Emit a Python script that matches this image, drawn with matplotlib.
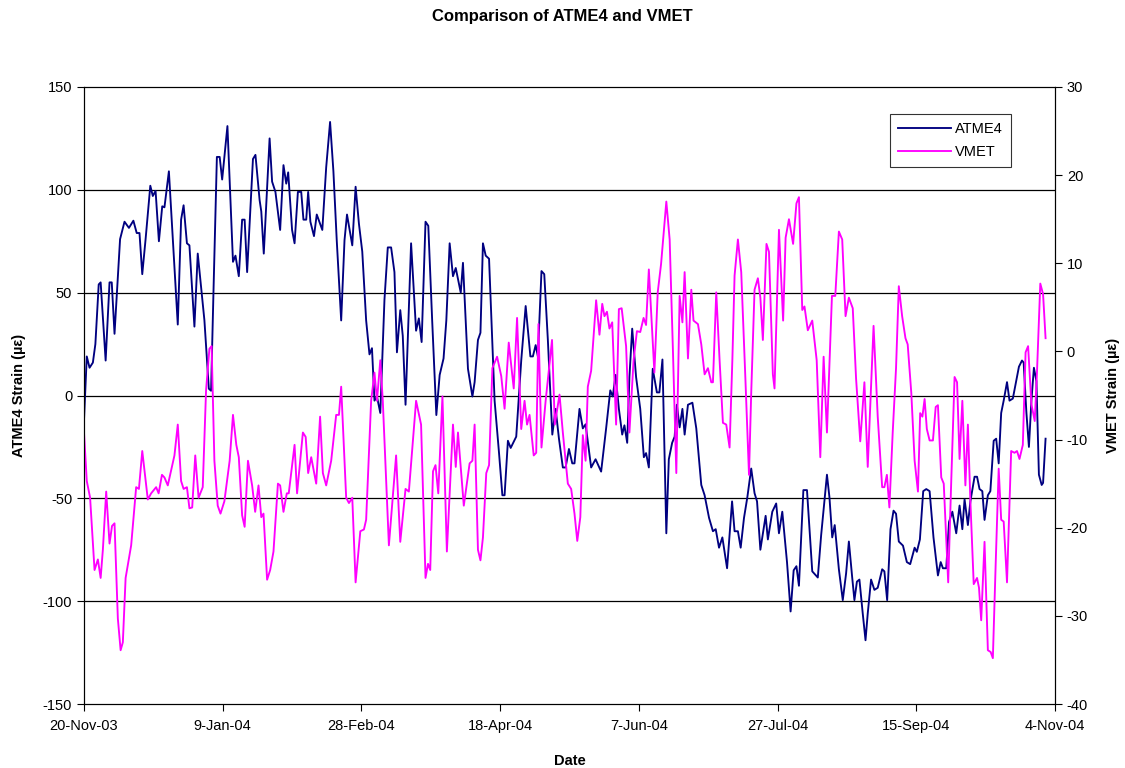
import numpy as np
import matplotlib
matplotlib.use('Agg')
import matplotlib.pyplot as plt

plt.rcParams['font.family'] = ['Liberation Sans', 'DejaVu Sans']
plt.rcParams['axes.unicode_minus'] = False

# days after 20-Nov-03
ATME4_DAYS = [0, 1.0, 2.0, 3.2, 4.1, 5.3, 6.0, 7.8, 9.2, 10.0, 11.0, 13.0, 14.6, 16.2, 17.8, 19.0, 20.0, 21.0,
              22.2, 23.9, 24.8, 25.8, 27.0, 28.2, 29.0, 30.6, 33.8, 35.0, 35.9, 37.1, 38.0, 39.8, 41.0,
              43.4, 45.0, 45.8, 46.7, 47.9, 48.9, 49.8, 51.7, 53.7, 54.6, 55.8, 57.0, 57.9, 58.8, 60.9, 61.8,
              63.3, 63.9, 64.8, 66.9, 67.8, 69.0, 70.7, 71.9, 72.9, 73.6, 75.0, 75.9, 77.1, 78.3, 79.1, 80.1,
              80.8, 81.6, 82.9, 83.9, 85.9, 87.3, 88.7, 89.9, 91.1, 92.7, 93.9, 94.8, 96.7, 97.9, 99.1, 100.3,
              101.7, 102.9, 103.8, 104.7, 105.6, 106.8, 108.3, 109.5, 110.7, 111.9, 112.8, 114.0, 114.9, 115.9,
              117.9, 119.7, 120.7, 121.7, 123.1, 124.1, 125.5, 127.0, 128.2, 129.6, 130.6, 131.8, 133.0, 134.0,
              135.8, 136.6, 138.4, 140.0, 140.8, 142.0, 142.9, 143.8, 144.8, 146.0, 148.0, 149.6, 150.8, 151.6,
              152.8, 153.8, 155.8, 157.6, 159.2, 160.9, 161.8, 162.8, 163.6, 164.9, 165.9, 167.2, 168.8, 170.0,
              171.2, 172.6, 173.6, 174.8, 176.0, 176.8, 178.6, 179.8, 180.8, 182.8, 184.4, 186.4, 188.2, 189.7,
              190.6, 191.6, 192.8, 194.0, 194.8, 195.8, 196.6, 197.6, 199.0, 200.5, 201.8, 202.6, 203.6, 205.0,
              206.5, 207.4, 208.5, 209.9, 210.8, 212.0, 212.9, 213.7, 214.7, 215.7, 216.5, 217.7, 219.3, 220.7,
              222.5, 223.7, 225.3, 226.7, 227.7, 228.9, 230.1, 231.8, 233.6, 234.5, 235.7, 236.7, 237.9, 239.1,
              240.5, 241.7, 242.6, 243.8, 245.7, 246.5, 248.1, 249.5, 250.5, 251.7, 253.4, 254.7, 255.8, 256.8,
              257.7, 259.3, 260.6, 262.5, 264.5, 265.7, 266.6, 267.8, 268.7, 269.7, 270.6, 272.1, 273.5, 274.7,
              275.7, 276.9, 277.7, 278.6, 279.5, 280.7, 281.7, 282.5, 283.7, 284.9, 286.1, 287.7, 288.5, 289.5,
              290.7, 291.8, 292.7, 293.7, 295.2, 296.6, 297.8, 299.4, 300.2, 301.3, 302.5, 303.6, 304.8, 306.2,
              307.8, 308.8, 309.6, 310.8, 311.8, 313.0, 314.4, 315.6, 316.6, 317.4, 318.6, 319.5, 321.0, 321.9,
              322.8, 323.8, 324.6, 325.8, 326.7, 327.9, 328.8, 329.7, 330.6, 331.5, 332.7, 333.6, 334.8, 336.0,
              337.0, 338.1, 338.7, 339.7, 340.6, 341.5, 342.4, 343.3, 344.2, 345.2, 345.7, 346.6]
ATME4_VALS = [-12, 19, 13.5, 16, 25, 54, 55, 17, 55, 55, 30, 76, 84.5, 81.5, 85, 79, 79, 59,
              76, 102, 97, 99.5, 75, 92, 91.5, 109, 34.5, 85.5, 92.5, 74, 73, 33.5, 69,
              36.6, 3.3, 2.3, 52, 116, 116, 105, 131, 65, 68, 58, 85.5, 85.5, 60, 115, 117,
              95, 89.5, 69, 125, 104, 99, 80.5, 112, 103, 108.5, 80.5, 74, 99, 99, 85.5, 85.5,
              99, 84.5, 77.5, 88, 80.5, 111, 133, 109, 75.5, 36.5, 75.5, 88, 73, 101.5, 83.5, 70,
              36.5, 20, 23, -2.5, -0.5, -8.5, 46.5, 72, 72, 60, 21, 41.5, 29, -4.5,
              74, 31.5, 37.5, 26, 84.5, 82.5, 36.5, -9.5, 10, 18, 36.5, 74, 58, 62,
              50, 64.5, 13, -0.5, 6.5, 27, 30.5, 74, 68, 66.5, -2.5, -28, -48.5, -48.5,
              -22, -25.5, -20, 17, 43.5, 19, 19, 24.5, 19, 60.5, 59, 27, -19, -6.5,
              -21, -35, -35, -26, -33, -33, -6.5, -16, -14, -35, -31, -37, -16, 2.5,
              -0.5, 10, -6.5, -19, -14.5, -23, 9, 32.5, 9, -6.5, -30, -28, -35, 13,
              1.5, 1.5, 17.5, -67, -31, -23, -20, -4.5, -15.5, -6.5, -19, -4.5, -3.5, -16,
              -43.5, -48.5, -59.5, -66, -65, -74, -69, -84, -51.5, -66, -66, -74, -59.5, -49.5,
              -35.5, -47.5, -51.5, -75, -58.5, -70, -56.5, -52.5, -67, -56.5, -81, -105, -85, -83,
              -92.5, -46, -46, -85.5, -88.5, -68, -55.5, -38.5, -49.5, -69, -63, -84.5, -99.5, -86.5,
              -71, -88.5, -99.5, -90.5, -89.5, -106, -119, -106, -89.5, -94.5, -93.5, -84.5, -85.5, -99.5,
              -65, -56, -57.5, -71, -73, -81, -82, -74, -76, -70, -46.5, -45.5, -46.5, -69,
              -87.5, -81, -84, -84, -61.5, -56.5, -67, -53.5, -65, -50.5, -63, -51.5, -39.5, -39.5,
              -45.5, -46.5, -60.5, -48.5, -46.5, -22, -21, -33, -8.5, -2.5, 6.5, -2.5, -1.5, 7,
              14, 17, 16, -8.5, -25, -2.5, 13.5, 7, -38.5, -43.5, -42.5, -21]

VMET_DAYS = [0, 1.0, 2.2, 3.8, 5.0, 6.0, 6.8, 8.0, 9.2, 10.1, 11.0, 12.2, 13.2, 14.0, 15.0, 17.0, 18.8, 19.8,
             21.0, 23.0, 24.2, 26.0, 26.9, 28.1, 29.0, 30.2, 32.6, 33.8, 35.0, 35.9, 37.1, 38.0, 39.0, 40.1,
             41.3, 42.8, 44.0, 45.2, 46.0, 47.0, 48.2, 49.2, 50.6, 52.5, 53.7, 54.9, 55.8, 57.0, 57.9, 59.1,
             60.6, 61.7, 62.9, 63.9, 64.7, 66.0, 67.1, 68.3, 69.9, 70.7, 71.9, 73.1, 73.8, 75.9, 76.8, 78.9,
             79.9, 80.8, 81.9, 83.7, 85.1, 86.1, 87.3, 89.1, 90.9, 91.9, 92.7, 94.5, 95.5, 96.7, 97.9, 99.6,
             100.9, 101.7, 103.5, 104.7, 105.6, 106.8, 107.7, 109.9, 112.5, 114.0, 115.9, 117.1, 119.7, 121.5,
             123.1, 124.0, 124.8, 125.8, 126.7, 127.7, 129.2, 130.8, 133.0, 134.0, 134.8, 136.9, 139.0, 140.0,
             140.8, 142.0, 142.9, 143.8, 145.0, 146.0, 147.2, 148.9, 150.4, 151.6, 153.1, 154.9, 156.1, 157.6,
             158.8, 159.7, 160.6, 162.1, 163.0, 163.8, 164.9, 166.4, 168.7, 169.7, 171.4, 172.6, 174.4, 175.6,
             176.8, 177.8, 178.9, 179.8, 180.8, 181.6, 182.8, 184.6, 185.8, 186.8, 187.6, 188.5, 189.4, 190.4,
             191.8, 192.8, 193.8, 195.4, 196.6, 198.1, 199.3, 200.5, 201.7, 202.6, 203.6, 205.6, 206.8, 208.0,
             209.9, 211.1, 212.3, 213.5, 214.7, 215.7, 216.5, 217.7, 218.9, 219.7, 221.3, 222.5, 223.7, 224.9,
             226.1, 226.7, 227.9, 229.1, 230.3, 231.5, 232.7, 233.7, 234.5, 235.7, 236.9, 238.4, 239.7, 240.5,
             241.7, 242.9, 243.8, 244.7, 246.0, 246.9, 248.3, 248.9, 250.5, 252.0, 252.9, 254.1, 255.6, 256.8,
             257.7, 258.9, 259.7, 260.9, 262.5, 264.1, 265.4, 266.6, 267.8, 269.6, 270.8, 272.1, 273.3, 274.5,
             275.7, 277.1, 278.3, 279.8, 281.3, 282.5, 284.6, 286.1, 287.7, 288.5, 289.4, 290.3, 291.5, 292.7,
             293.7, 294.9, 296.1, 296.9, 298.2, 299.4, 300.6, 301.4, 302.2, 303.0, 303.8, 304.8, 306.0, 307.0,
             307.8, 309.0, 309.9, 311.5, 312.6, 313.8, 314.7, 315.6, 316.6, 317.7, 318.6, 319.5, 320.7, 321.9,
             322.6, 323.4, 324.6, 325.8, 326.8, 327.6, 328.6, 329.7, 330.6, 331.5, 332.7, 334.2, 335.4, 336.3,
             337.2, 338.4, 339.4, 340.3, 341.5, 342.7, 343.5, 344.7, 345.7, 346.6]
VMET_VALS = [-9.2, -14.7, -16.6, -24.8, -23.6, -25.7, -22.5, -15.9, -21.8, -19.8, -19.5, -30.3, -33.9, -33, -25.7, -22, -15.4, -15.6,
             -11.3, -16.8, -16.1, -15.4, -16.1, -14, -14.3, -15.2, -11.8, -8.3, -14.7, -15.6, -15.4, -17.8, -17.7, -11.8,
             -16.6, -15.4, -4.4, 0.3, 0.6, -12.4, -17.5, -18.4, -17, -12.4, -7.2, -10.6, -12, -18.6, -19.9, -12.4,
             -15.2, -18.2, -15.2, -18.8, -18.4, -25.9, -24.8, -22.7, -15, -15.2, -18.2, -16.1, -16.1, -10.6, -16.1, -9.2,
             -9.7, -13.8, -12, -15, -7.4, -13.8, -15.2, -12.4, -7.2, -7.2, -4, -16.6, -17.2, -16.6, -26.2, -20.4,
             -20.2, -19.1, -5.6, -2.4, -5.6, -1, -5.6, -22, -11.8, -21.6, -15.6, -15.9, -5.6, -8.3,
             -25.7, -24.1, -24.8, -13.6, -12.9, -16.1, -5.1, -22.7, -8.3, -13.1, -9.2, -17.5, -12.7, -12.4,
             -8.3, -22.5, -23.7, -21.1, -13.8, -12.9, -1.9, -0.6, -2.8, -6.5, 1, -4.2, 3.8, -8.8,
             -5.6, -8.3, -7.2, -11.8, -11.5, 3.1, -10.9, -5.6, 1.3, -8.3, -4.9, -9.2, -15, -15.6,
             -18.4, -21.5, -18.8, -9.5, -12.4, -4, -2.2, 5.8, 1.9, 5.4, 4, 4.5, 2.6, 3.3,
             -8.3, 4.8, 4.9, 0.6, -9.2, -1, 2.3, 2.2, 3.8, 3, 9.3, -2.4, 6.7, 9.9,
             17, 12.7, -0.1, -13.8, 6.3, 3.3, 9, -0.8, 7, 3.5, 3.1, 0.8, -2.6, -1.9,
             -3.5, -3.5, 6.7, -1, -8.1, -8.3, -10.9, -1, 8.6, 12.7, 9, -3.1, -14, -4.7,
             7, 8.3, 6.1, 1.3, 12.2, 11.3, -2.6, -4.2, 13.8, 3.5, 12.9, 15, 12.2, 16.8,
             17.5, 4.7, 5.1, 2.4, 3.5, -1, -12, -0.6, -9.2, 6.3, 6.3, 13.6, 12.7, 4,
             6.1, 4.9, -3.1, -10.2, -3.5, -13.1, 2.9, -7.4, -15.4, -15.4, -14, -17.7, -9.2, -1.9,
             7.4, 4, 1.5, 0.8, -4.7, -12.4, -15.9, -7, -7.4, -5.4, -8.8, -10.1, -10.1, -6.3,
             -6.1, -14.3, -15, -26.2, -14.7, -2.9, -3.5, -12.2, -5.6, -15.2, -8.3, -17, -26.4, -25.7,
             -26.8, -30.5, -21.6, -33.9, -34.1, -34.8, -24.3, -13.3, -19.1, -19.3, -26.2, -11.3, -11.5, -11.3,
             -12.2, -10.6, -0.1, 0.6, -6, -7.9, -2.4, 7.7, 6.5, 1.5]

TICK_DAYS = [0, 50, 100, 150, 200, 250, 300, 350]
TICK_LABELS = ['20-Nov-03', '9-Jan-04', '28-Feb-04', '18-Apr-04', '7-Jun-04',
               '27-Jul-04', '15-Sep-04', '4-Nov-04']

fig = plt.figure(figsize=(11.25, 7.68), dpi=100)
ax = fig.add_axes([84 / 1125, 64 / 768, 971 / 1125, 617 / 768])
ax2 = ax.twinx()

ax.set_xlim(0, 350)
ax.set_ylim(-150, 150)
ax.set_yticks(np.arange(-150, 151, 50))
ax.set_xticks(TICK_DAYS)
ax.set_xticklabels(TICK_LABELS)
for yv in [-100, -50, 0, 50, 100]:
    ax.axhline(yv, color='black', linewidth=0.9, zorder=0)

ax2.set_ylim(-40, 30)
ax2.set_yticks(np.arange(-40, 31, 10))

la, = ax.plot(ATME4_DAYS, ATME4_VALS, color='#000080', linewidth=1.35)
lv, = ax2.plot(VMET_DAYS, VMET_VALS, color='#FF00FF', linewidth=1.35)

for a in (ax, ax2):
    a.tick_params(direction='out', length=5, width=0.8, labelsize=10.5, colors='black')
    for sp in a.spines.values():
        sp.set_color('black')
        sp.set_linewidth(0.8)
ax.tick_params(axis='x', pad=6)

ax.set_xlabel('Date', fontsize=10.5, fontweight='bold', labelpad=15)
ax.set_ylabel('ATME4 Strain (\u00b5\u03b5)', fontsize=10.5, fontweight='bold', labelpad=12)
ax2.set_ylabel('VMET Strain (\u00b5\u03b5)', fontsize=10.5, fontweight='bold', labelpad=13)

fig.text(0.5, 1 - 17 / 768, 'Comparison of ATME4 and VMET', ha='center', va='center',
         fontsize=12, fontweight='bold')

leg = ax2.legend([la, lv], ['ATME4', 'VMET'], loc='upper right',
                 bbox_to_anchor=(1011 / 1125, 1 - 114 / 768), bbox_transform=fig.transFigure,
                 fontsize=10.5, frameon=True, fancybox=False, handlelength=3.6,
                 borderpad=0.55, labelspacing=0.6, handletextpad=0.3, borderaxespad=0)
leg.get_frame().set_edgecolor('black')
leg.get_frame().set_linewidth(0.8)

plt.savefig('out.png', dpi=100, facecolor='white')
plt.close()
